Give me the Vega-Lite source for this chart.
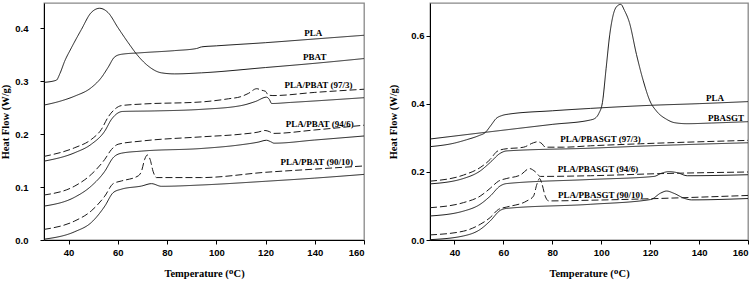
{
  "$schema": "https://vega.github.io/schema/vega-lite/v6.json",
  "background": "white",
  "padding": {"left": 0, "top": 2, "right": 0, "bottom": 0},
  "config": {
    "view": {"stroke": "#888", "strokeWidth": 1.3},
    "axis": {"grid": false, "labelFont": "Liberation Sans", "labelFontWeight": "bold", "labelFontSize": 9.5, "labelColor": "#000", "titleFont": "Liberation Serif", "titleFontWeight": "bold", "titleFontSize": 10.5, "titleColor": "#000", "tickColor": "#000", "domainColor": "#000", "tickSize": 4, "domainWidth": 1}
  },
  "datasets": {
    "left": [
      {"s":"PLA","d":"solid","x":30,"y":0.255},{"s":"PLA","d":"solid","x":37,"y":0.263},{"s":"PLA","d":"solid","x":42.5,"y":0.272},{"s":"PLA","d":"solid","x":49.2,"y":0.288},{"s":"PLA","d":"solid","x":53.3,"y":0.307},{"s":"PLA","d":"solid","x":56,"y":0.326},{"s":"PLA","d":"solid","x":58.7,"y":0.346},{"s":"PLA","d":"solid","x":61.4,"y":0.351},{"s":"PLA","d":"solid","x":69.6,"y":0.354},{"s":"PLA","d":"solid","x":83.1,"y":0.358},{"s":"PLA","d":"solid","x":92,"y":0.362},{"s":"PLA","d":"solid","x":94,"y":0.365},{"s":"PLA","d":"solid","x":100,"y":0.367},{"s":"PLA","d":"solid","x":120,"y":0.373},{"s":"PLA","d":"solid","x":140,"y":0.38},{"s":"PLA","d":"solid","x":160,"y":0.387},
      {"s":"PBAT","d":"solid","x":30,"y":0.298},{"s":"PBAT","d":"solid","x":35,"y":0.302},{"s":"PBAT","d":"solid","x":36.5,"y":0.315},{"s":"PBAT","d":"solid","x":38.4,"y":0.338},{"s":"PBAT","d":"solid","x":41.1,"y":0.363},{"s":"PBAT","d":"solid","x":45.2,"y":0.398},{"s":"PBAT","d":"solid","x":49.2,"y":0.43},{"s":"PBAT","d":"solid","x":52.6,"y":0.438},{"s":"PBAT","d":"solid","x":56,"y":0.43},{"s":"PBAT","d":"solid","x":60.1,"y":0.401},{"s":"PBAT","d":"solid","x":64.2,"y":0.373},{"s":"PBAT","d":"solid","x":68.2,"y":0.348},{"s":"PBAT","d":"solid","x":72.3,"y":0.329},{"s":"PBAT","d":"solid","x":77.7,"y":0.316},{"s":"PBAT","d":"solid","x":83.1,"y":0.314},{"s":"PBAT","d":"solid","x":94,"y":0.316},{"s":"PBAT","d":"solid","x":120,"y":0.326},{"s":"PBAT","d":"solid","x":140,"y":0.334},{"s":"PBAT","d":"solid","x":160,"y":0.343},
      {"s":"97d","d":"dash","x":30,"y":0.158},{"s":"97d","d":"dash","x":42.5,"y":0.1745},{"s":"97d","d":"dash","x":49.2,"y":0.19},{"s":"97d","d":"dash","x":53.3,"y":0.209},{"s":"97d","d":"dash","x":56,"y":0.232},{"s":"97d","d":"dash","x":58.7,"y":0.247},{"s":"97d","d":"dash","x":61.4,"y":0.254},{"s":"97d","d":"dash","x":70,"y":0.257},{"s":"97d","d":"dash","x":94,"y":0.261},{"s":"97d","d":"dash","x":105,"y":0.267},{"s":"97d","d":"dash","x":110,"y":0.271},{"s":"97d","d":"dash","x":113,"y":0.277},{"s":"97d","d":"dash","x":116.4,"y":0.286},{"s":"97d","d":"dash","x":118.5,"y":0.283},{"s":"97d","d":"dash","x":120,"y":0.281},{"s":"97d","d":"dash","x":121.1,"y":0.274},{"s":"97d","d":"dash","x":123,"y":0.273},{"s":"97d","d":"dash","x":140,"y":0.279},{"s":"97d","d":"dash","x":160,"y":0.285},
      {"s":"97s","d":"solid","x":30,"y":0.149},{"s":"97s","d":"solid","x":42.5,"y":0.165},{"s":"97s","d":"solid","x":49.2,"y":0.181},{"s":"97s","d":"solid","x":54.7,"y":0.206},{"s":"97s","d":"solid","x":57.4,"y":0.228},{"s":"97s","d":"solid","x":60,"y":0.24},{"s":"97s","d":"solid","x":62,"y":0.243},{"s":"97s","d":"solid","x":75,"y":0.244},{"s":"97s","d":"solid","x":94,"y":0.247},{"s":"97s","d":"solid","x":110,"y":0.254},{"s":"97s","d":"solid","x":116,"y":0.262},{"s":"97s","d":"solid","x":120.4,"y":0.27},{"s":"97s","d":"solid","x":121.5,"y":0.266},{"s":"97s","d":"solid","x":122.5,"y":0.258},{"s":"97s","d":"solid","x":130,"y":0.26},{"s":"97s","d":"solid","x":160,"y":0.269},
      {"s":"94d","d":"dash","x":30,"y":0.085},{"s":"94d","d":"dash","x":42.5,"y":0.102},{"s":"94d","d":"dash","x":49.2,"y":0.124},{"s":"94d","d":"dash","x":54.7,"y":0.1525},{"s":"94d","d":"dash","x":57.4,"y":0.171},{"s":"94d","d":"dash","x":60.1,"y":0.181},{"s":"94d","d":"dash","x":69.6,"y":0.187},{"s":"94d","d":"dash","x":94,"y":0.195},{"s":"94d","d":"dash","x":110,"y":0.2},{"s":"94d","d":"dash","x":117,"y":0.204},{"s":"94d","d":"dash","x":119.8,"y":0.207},{"s":"94d","d":"dash","x":121.5,"y":0.205},{"s":"94d","d":"dash","x":123.2,"y":0.2015},{"s":"94d","d":"dash","x":140,"y":0.208},{"s":"94d","d":"dash","x":160,"y":0.217},
      {"s":"94s","d":"solid","x":30,"y":0.064},{"s":"94s","d":"solid","x":42.5,"y":0.081},{"s":"94s","d":"solid","x":49.2,"y":0.102},{"s":"94s","d":"solid","x":54.7,"y":0.13},{"s":"94s","d":"solid","x":58.1,"y":0.1556},{"s":"94s","d":"solid","x":61.4,"y":0.164},{"s":"94s","d":"solid","x":69.6,"y":0.168},{"s":"94s","d":"solid","x":94,"y":0.173},{"s":"94s","d":"solid","x":110,"y":0.18},{"s":"94s","d":"solid","x":117,"y":0.185},{"s":"94s","d":"solid","x":120.4,"y":0.1885},{"s":"94s","d":"solid","x":122,"y":0.186},{"s":"94s","d":"solid","x":123.5,"y":0.183},{"s":"94s","d":"solid","x":140,"y":0.189},{"s":"94s","d":"solid","x":160,"y":0.1966},
      {"s":"90d","d":"dash","x":30,"y":0.02},{"s":"90d","d":"dash","x":42.5,"y":0.036},{"s":"90d","d":"dash","x":49.2,"y":0.055},{"s":"90d","d":"dash","x":54.7,"y":0.083},{"s":"90d","d":"dash","x":58.1,"y":0.1065},{"s":"90d","d":"dash","x":61.4,"y":0.1115},{"s":"90d","d":"dash","x":68.2,"y":0.121},{"s":"90d","d":"dash","x":69.6,"y":0.13},{"s":"90d","d":"dash","x":70.9,"y":0.1525},{"s":"90d","d":"dash","x":72,"y":0.1607},{"s":"90d","d":"dash","x":73.1,"y":0.1525},{"s":"90d","d":"dash","x":74.3,"y":0.13},{"s":"90d","d":"dash","x":75.7,"y":0.118},{"s":"90d","d":"dash","x":94,"y":0.118},{"s":"90d","d":"dash","x":120,"y":0.128},{"s":"90d","d":"dash","x":140,"y":0.134},{"s":"90d","d":"dash","x":160,"y":0.14},
      {"s":"90s","d":"solid","x":30,"y":0.0015},{"s":"90s","d":"solid","x":42.5,"y":0.0157},{"s":"90s","d":"solid","x":49.2,"y":0.033},{"s":"90s","d":"solid","x":54.7,"y":0.064},{"s":"90s","d":"solid","x":58.1,"y":0.0895},{"s":"90s","d":"solid","x":61.4,"y":0.096},{"s":"90s","d":"solid","x":69.6,"y":0.102},{"s":"90s","d":"solid","x":73.7,"y":0.1065},{"s":"90s","d":"solid","x":77.7,"y":0.1015},{"s":"90s","d":"solid","x":94,"y":0.104},{"s":"90s","d":"solid","x":120,"y":0.111},{"s":"90s","d":"solid","x":140,"y":0.117},{"s":"90s","d":"solid","x":160,"y":0.124}
    ],
    "leftLabels": [
      {"t":"PLA","x":139.4,"y":0.391},{"t":"PBAT","x":140,"y":0.346},{"t":"PLA/PBAT (97/3)","x":141.5,"y":0.293},{"t":"PLA/PBAT (94/6)","x":142,"y":0.22},{"t":"PLA/PBAT (90/10)","x":140.8,"y":0.148}
    ],
    "right": [
      {"s":"PLA","d":"solid","x":30,"y":0.2745},{"s":"PLA","d":"solid","x":40,"y":0.285},{"s":"PLA","d":"solid","x":45,"y":0.295},{"s":"PLA","d":"solid","x":50,"y":0.307},{"s":"PLA","d":"solid","x":52.5,"y":0.3156},{"s":"PLA","d":"solid","x":55,"y":0.338},{"s":"PLA","d":"solid","x":57,"y":0.357},{"s":"PLA","d":"solid","x":59.4,"y":0.366},{"s":"PLA","d":"solid","x":62,"y":0.37},{"s":"PLA","d":"solid","x":80,"y":0.38},{"s":"PLA","d":"solid","x":95.6,"y":0.387},{"s":"PLA","d":"solid","x":120,"y":0.396},{"s":"PLA","d":"solid","x":140,"y":0.401},{"s":"PLA","d":"solid","x":160,"y":0.407},
      {"s":"PBASGT","d":"solid","x":30,"y":0.297},{"s":"PBASGT","d":"solid","x":60,"y":0.323},{"s":"PBASGT","d":"solid","x":80,"y":0.34},{"s":"PBASGT","d":"solid","x":95.6,"y":0.353},{"s":"PBASGT","d":"solid","x":97.5,"y":0.358},{"s":"PBASGT","d":"solid","x":99,"y":0.372},{"s":"PBASGT","d":"solid","x":100.5,"y":0.405},{"s":"PBASGT","d":"solid","x":102,"y":0.505},{"s":"PBASGT","d":"solid","x":103.5,"y":0.605},{"s":"PBASGT","d":"solid","x":105,"y":0.665},{"s":"PBASGT","d":"solid","x":106.5,"y":0.688},{"s":"PBASGT","d":"solid","x":108,"y":0.693},{"s":"PBASGT","d":"solid","x":109.5,"y":0.675},{"s":"PBASGT","d":"solid","x":111.5,"y":0.64},{"s":"PBASGT","d":"solid","x":114.4,"y":0.546},{"s":"PBASGT","d":"solid","x":117.2,"y":0.468},{"s":"PBASGT","d":"solid","x":119.9,"y":0.409},{"s":"PBASGT","d":"solid","x":122.6,"y":0.379},{"s":"PBASGT","d":"solid","x":126.7,"y":0.355},{"s":"PBASGT","d":"solid","x":130,"y":0.345},{"s":"PBASGT","d":"solid","x":135,"y":0.342},{"s":"PBASGT","d":"solid","x":145,"y":0.344},{"s":"PBASGT","d":"solid","x":160,"y":0.348},
      {"s":"97d","d":"dash","x":30,"y":0.173},{"s":"97d","d":"dash","x":43.7,"y":0.191},{"s":"97d","d":"dash","x":50.5,"y":0.213},{"s":"97d","d":"dash","x":54.6,"y":0.237},{"s":"97d","d":"dash","x":57.3,"y":0.26},{"s":"97d","d":"dash","x":60,"y":0.267},{"s":"97d","d":"dash","x":68.3,"y":0.273},{"s":"97d","d":"dash","x":72.3,"y":0.286},{"s":"97d","d":"dash","x":74,"y":0.289},{"s":"97d","d":"dash","x":75.8,"y":0.283},{"s":"97d","d":"dash","x":77.1,"y":0.273},{"s":"97d","d":"dash","x":84.6,"y":0.273},{"s":"97d","d":"dash","x":95.6,"y":0.277},{"s":"97d","d":"dash","x":116,"y":0.283},{"s":"97d","d":"dash","x":160,"y":0.293},
      {"s":"97s","d":"solid","x":30,"y":0.165},{"s":"97s","d":"solid","x":43.7,"y":0.181},{"s":"97s","d":"solid","x":50.5,"y":0.203},{"s":"97s","d":"solid","x":54.6,"y":0.228},{"s":"97s","d":"solid","x":58.7,"y":0.255},{"s":"97s","d":"solid","x":61.4,"y":0.262},{"s":"97s","d":"solid","x":95.6,"y":0.27},{"s":"97s","d":"solid","x":120,"y":0.277},{"s":"97s","d":"solid","x":160,"y":0.286},
      {"s":"94d","d":"dash","x":30,"y":0.095},{"s":"94d","d":"dash","x":43.7,"y":0.11},{"s":"94d","d":"dash","x":50.5,"y":0.129},{"s":"94d","d":"dash","x":54.6,"y":0.152},{"s":"94d","d":"dash","x":58,"y":0.173},{"s":"94d","d":"dash","x":61.4,"y":0.181},{"s":"94d","d":"dash","x":66.9,"y":0.191},{"s":"94d","d":"dash","x":70.7,"y":0.21},{"s":"94d","d":"dash","x":73,"y":0.201},{"s":"94d","d":"dash","x":75.1,"y":0.187},{"s":"94d","d":"dash","x":95.6,"y":0.189},{"s":"94d","d":"dash","x":122.9,"y":0.195},{"s":"94d","d":"dash","x":160,"y":0.2},
      {"s":"94s","d":"solid","x":30,"y":0.0706},{"s":"94s","d":"solid","x":43.7,"y":0.085},{"s":"94s","d":"solid","x":50.5,"y":0.105},{"s":"94s","d":"solid","x":54.6,"y":0.129},{"s":"94s","d":"solid","x":58.7,"y":0.159},{"s":"94s","d":"solid","x":61.4,"y":0.166},{"s":"94s","d":"solid","x":95.6,"y":0.178},{"s":"94s","d":"solid","x":121.6,"y":0.187},{"s":"94s","d":"solid","x":124.5,"y":0.196},{"s":"94s","d":"solid","x":127.7,"y":0.201},{"s":"94s","d":"solid","x":131.1,"y":0.198},{"s":"94s","d":"solid","x":135.2,"y":0.189},{"s":"94s","d":"solid","x":160,"y":0.192},
      {"s":"90d","d":"dash","x":30,"y":0.015},{"s":"90d","d":"dash","x":43.7,"y":0.026},{"s":"90d","d":"dash","x":50.5,"y":0.046},{"s":"90d","d":"dash","x":54.6,"y":0.066},{"s":"90d","d":"dash","x":58,"y":0.09},{"s":"90d","d":"dash","x":61.4,"y":0.097},{"s":"90d","d":"dash","x":69.6,"y":0.115},{"s":"90d","d":"dash","x":72.3,"y":0.129},{"s":"90d","d":"dash","x":73.7,"y":0.164},{"s":"90d","d":"dash","x":74.8,"y":0.181},{"s":"90d","d":"dash","x":75.8,"y":0.164},{"s":"90d","d":"dash","x":77.1,"y":0.129},{"s":"90d","d":"dash","x":78.5,"y":0.115},{"s":"90d","d":"dash","x":95.6,"y":0.117},{"s":"90d","d":"dash","x":160,"y":0.131},
      {"s":"90s","d":"solid","x":30,"y":0.001},{"s":"90s","d":"solid","x":43.7,"y":0.012},{"s":"90s","d":"solid","x":50.5,"y":0.031},{"s":"90s","d":"solid","x":54.6,"y":0.056},{"s":"90s","d":"solid","x":58.7,"y":0.087},{"s":"90s","d":"solid","x":61.4,"y":0.093},{"s":"90s","d":"solid","x":95.6,"y":0.105},{"s":"90s","d":"solid","x":120.2,"y":0.119},{"s":"90s","d":"solid","x":124.3,"y":0.138},{"s":"90s","d":"solid","x":126.7,"y":0.144},{"s":"90s","d":"solid","x":129.8,"y":0.137},{"s":"90s","d":"solid","x":133.8,"y":0.123},{"s":"90s","d":"solid","x":137,"y":0.118},{"s":"90s","d":"solid","x":160,"y":0.122}
    ],
    "rightLabels": [
      {"t":"PLA","x":146.5,"y":0.419},{"t":"PBASGT","x":151,"y":0.358},{"t":"PLA/PBASGT (97/3)","x":99.7,"y":0.296},{"t":"PLA/PBASGT (94/6)","x":98.7,"y":0.208},{"t":"PLA/PBASGT (90/10)","x":99.7,"y":0.131}
    ]
  },
  "hconcat": [
    {
      "width": 320, "height": 237,
      "layer": [
        {
          "data": {"name": "left"},
          "mark": {"type": "line", "strokeWidth": 1, "color": "#1a1a1a", "clip": true, "interpolate": "monotone"},
          "encoding": {
            "x": {"field": "x", "type": "quantitative", "scale": {"domain": [30, 160], "nice": false, "zero": false}, "axis": {"values": [40, 60, 80, 100, 120, 140, 160], "title": "Temperature (ᴼC)", "labelPadding": 3, "titlePadding": 12}},
            "y": {"field": "y", "type": "quantitative", "scale": {"domain": [0, 0.448], "nice": false}, "axis": {"values": [0, 0.1, 0.2, 0.3, 0.4], "format": ".1f", "title": "Heat Flow (W/g)", "labelPadding": 12, "titlePadding": 4}},
            "detail": {"field": "s"},
            "strokeDash": {"field": "d", "type": "nominal", "scale": {"domain": ["solid", "dash"], "range": [[1, 0], [7, 3]]}, "legend": null}
          }
        },
        {
          "data": {"name": "leftLabels"},
          "mark": {"type": "text", "font": "Liberation Serif", "fontWeight": "bold", "fontSize": 9, "color": "#000", "baseline": "middle", "align": "center"},
          "encoding": {
            "x": {"field": "x", "type": "quantitative"},
            "y": {"field": "y", "type": "quantitative"},
            "text": {"field": "t"}
          }
        }
      ]
    },
    {
      "width": 318, "height": 237,
      "layer": [
        {
          "data": {"name": "right"},
          "mark": {"type": "line", "strokeWidth": 1, "color": "#1a1a1a", "clip": true, "interpolate": "monotone"},
          "encoding": {
            "x": {"field": "x", "type": "quantitative", "scale": {"domain": [30, 160], "nice": false, "zero": false}, "axis": {"values": [40, 60, 80, 100, 120, 140, 160], "title": "Temperature (ᴼC)", "labelPadding": 3, "titlePadding": 12}},
            "y": {"field": "y", "type": "quantitative", "scale": {"domain": [0, 0.697], "nice": false}, "axis": {"values": [0, 0.2, 0.4, 0.6], "format": ".1f", "title": "Heat Flow (W/g)", "labelPadding": 2, "titlePadding": 12}},
            "detail": {"field": "s"},
            "strokeDash": {"field": "d", "type": "nominal", "scale": {"domain": ["solid", "dash"], "range": [[1, 0], [7, 3]]}, "legend": null}
          }
        },
        {
          "data": {"name": "rightLabels"},
          "mark": {"type": "text", "font": "Liberation Serif", "fontWeight": "bold", "fontSize": 9, "color": "#000", "baseline": "middle", "align": "center"},
          "encoding": {
            "x": {"field": "x", "type": "quantitative"},
            "y": {"field": "y", "type": "quantitative"},
            "text": {"field": "t"}
          }
        }
      ]
    }
  ],
  "spacing": 66,
  "bounds": "flush",
  "resolve": {"scale": {"strokeDash": "independent"}}
}
